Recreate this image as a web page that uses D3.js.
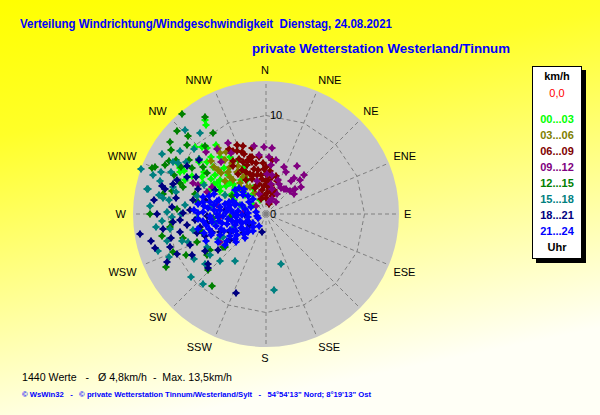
<!DOCTYPE html>
<html>
<head>
<meta charset="utf-8">
<script src="https://cdn.jsdelivr.net/npm/d3@7"></script>
<style>
body { margin: 0; }
text { font-family: "Liberation Sans", Arial, sans-serif; }
</style>
</head>
<body>
<script>
// readings per 3 hour block: [wind direction in degrees, speed in km/h]
var h00_03 = [[327,11.4],[326,10.9],[313,9.9],[316,9.4],[298,9.9],[296,9.7],[316,8.1],[321,7.4],[312,7.2],[323,6.0],[326,5.0],[311,8.0],[328,6.8],[331,4.0],[333,3.0],[337,1.5],[296,7.1],[302,5.9],[300,10.4],[293,6.2],[287,2.4],[295,4.6],[294,3.5],[300,5.4],[311,4.8],[316,5.5],[307,6.5],[312,2.9],[305,1.6],[293,8.9],[333,6.2],
    [318,9.0],[324,8.6],[308,8.6],[304,7.6],[318,6.3],[323,4.3],[328,2.4],[310,3.8],[301,4.0],[297,8.4],[315,3.3],[335,5.3],
    [306,5.8],[310,4.1],[303,6.6],[300,7.5],[298,9.4],[308,5.2],[312,4.5],[305,4.9],[300,6.1],[297,5.2]];
var h03_06 = [[312,7.1],[316,3.7],[312,6.2],[316,5.2],[326,6.2],[325,5.2],[328,4.4],[329,3.2],[332,2.4],[323,6.9],[323,7.8],[316,4.8],[322,7.0],[322,6.0],[313,6.6],[325,3.4],[320,4.1],[318,5.8],[327,7.5],[314,7.8],[330,5.6],[309,5.4],[334,4.5],[324,8.3]];
var h06_09 = [[335,7.0],[340,6.5],[344,6.0],[345,5.5],[353,5.8],[339,5.3],[345,4.7],[347,4.1],[354,3.6],[0,3.3],[343,3.1],[351,2.5],[3,2.1],[10,3.0],[338,3.8],[338,4.4],[332,5.1],[0,1.6],[15,1.1],[342,1.6],[18,1.9],[2,2.8],[18,2.6],[339,6.7],[346,6.0],[0,4.8],[341,4.2],[335,4.7],[347,3.1],[0,4.1],[9,3.8],[18,3.5],[332,7.2],[328,6.3],[336,5.8],[350,4.5],[357,5.2],[5,4.4],[12,2.3],[348,6.8],[330,4.0],[325,5.0],[6,5.5],
    [330,7.6],[334,6.2],[337,7.6],[342,5.8],[349,5.3],[352,4.0],[355,2.9],[358,4.6],[4,3.5],[8,2.6],[14,4.0],[22,2.3],[347,2.0],[337,2.9],[326,5.9],[341,7.3]];
var h09_12 = [[358,6.8],[10,5.6],[21,5.1],[25,4.7],[38,4.6],[38,4.2],[50,3.9],[39,3.3],[47,3.4],[38,1.6],[9,3.1],[6,5.0],[20,3.7],[1,4.1],[9,4.0],[353,6.0],[341,2.1],[23,3.3],[44,5.5],[36,3.1],[30,3.0],[22,1.6],[13,1.3],[309,1.3],[13,2.6],[332,8.2],[330,7.2],[323,8.2],[319,7.0],[290,6.4],[293,8.1],[239,5.5],[297,6.1],[273,2.3],[266,4.7],[293,7.5],[52,4.5],[45,4.9],[33,5.8],
    [3,5.8],[55,3.5],[29,2.3],[350,7.0],[5,6.7],[345,3.5],[316,8.8],[280,5.0],[255,3.2]];
var h12_15 = [[320,13.3],[315,11.2],[307,12.2],[328,11.6],[327,9.8],[305,9.6],[301,10.7],[293,12.2],[293,10.1],[302,8.8],[288,8.9],[307,8.0],[299,11.2],[311,10.6],[299,9.9],[309,8.8],[262,9.8],[265,9.6],[254,8.8],[248,7.6],[254,6.8],[237,6.8],[231,5.3],[266,5.4],[265,3.7],[280,7.0],[292,12.5],[217,9.1],[248,10.2],[235,7.3],[233,5.5],[253,6.7],[284,9.8],[298,3.9],
    [296,11.4],[304,11.6],[313,12.4],[318,9.3],[290,9.3],[281,10.6],[273,9.0],[258,10.8],[243,9.1],[226,8.2],[270,11.8],[305,7.3],[286,7.5],[242,11.5]];
var h15_18 = [[290,13.5],[300,12.2],[289,12.1],[279,10.6],[282,12.4],[294,10.6],[321,10.6],[306,10.8],[309,8.8],[299,10.8],[300,10.3],[282,12.2],[278,9.9],[268,9.5],[266,10.6],[284,9.4],[276,8.3],[277,5.7],[260,5.3],[241,6.9],[234,7.0],[242,5.5],[242,5.0],[247,3.6],[267,7.0],[251,11.6],[224,6.7],[213,5.7],[222,9.5],[163,5.3],[174,7.8],[252,9.0],[250,8.4],[261,9.9],[271,10.1],[286,9.8],[295,4.6],[295,6.9],[289,2.8],
    [287,11.3],[274,11.8],[263,11.2],[255,10.4],[246,10.8],[238,8.6],[231,8.0],[270,8.6],[280,11.0],[292,11.5],[303,9.7],[312,9.8],[316,11.9],[258,7.6],[285,7.2],[230,9.9]];
var h18_21 = [[261,12.9],[253,11.8],[251,10.3],[258,8.9],[262,8.1],[255,7.3],[261,6.1],[252,5.8],[234,4.5],[265,9.5],[271,8.4],[291,9.7],[295,8.9],[298,8.0],[309,8.7],[285,10.9],[284,10.6],[227,8.1],[229,7.8],[201,8.6],[193,1.9],[249,5.0],[230,3.0],[243,4.1],[259,6.8],[265,7.2],[233,6.1],[248,8.3],[276,4.2],[283,6.4],[295,5.7],[267,2.1],[236,2.0],[270,11.1],
    [256,9.9],[266,8.8],[274,9.6],[280,9.3],[288,9.9],[277,11.5],[262,10.6],[246,9.9],[241,8.6],[239,7.2],[250,6.6],[268,6.0],[273,7.7],[281,7.6],[290,7.3],[301,9.4],[244,11.2],[257,12.0]];
var h21_24 = [[212,1.4],[218,2.2],[225,1.8],[228,3.0],[232,2.5],[234,3.6],[237,1.6],[239,4.3],[241,2.9],[243,3.8],[245,5.1],[247,2.2],[248,4.6],[250,3.3],[251,5.8],[253,6.6],[254,2.7],[255,4.1],[257,5.2],[258,7.1],[259,3.5],[260,6.2],[261,1.9],[262,4.8],[264,3.1],[265,5.6],[266,6.9],[267,2.4],[268,4.4],[270,5.0],[271,3.4],[272,6.4],[273,7.3],[274,1.8],[275,4.7],[276,5.9],[277,2.9],[278,7.0],[279,3.9],[280,5.4],[281,6.5],[282,2.2],[283,4.3],[285,5.1],[286,3.3],[287,6.1],[288,4.0],[290,2.6],[291,5.6],[292,3.6],[295,1.7],[304,3.5],[307,2.1],[308,4.0],[310,3.0],[313,3.8],[316,2.6],[318,3.4],[320,2.0],[256,0.9],[283,1.0],[245,0.9],[235,4.8],[249,6.0],[227,4.2],[221,3.2],
    [226,2.6],[231,4.0],[236,2.8],[240,3.5],[244,1.9],[246,4.0],[249,2.6],[252,4.8],[255,6.0],[257,3.0],[259,4.6],[261,5.5],[263,3.9],[264,6.4],[266,4.9],[268,5.7],[269,3.0],[271,6.9],[273,4.1],[274,5.3],[276,3.6],[277,6.3],[279,4.7],[282,5.8],[284,3.8],[285,6.6],[287,5.0],[289,3.2],[314,3.2],[246,6.7],[240,5.6],[233,5.2]];

var groupData = [h00_03, h03_06, h06_09, h09_12, h12_15, h15_18, h18_21, h21_24];
var groupLabels = ["00...03", "03...06", "06...09", "09...12", "12...15", "15...18", "18...21", "21...24"];
var groupColors = ["#00ff00", "#808000", "#800000", "#800080", "#008000", "#008080", "#000080", "#0000ff"];

var dirLabels = ["N","NNE","NE","ENE","E","ESE","SE","SSE","S","SSW","SW","WSW","W","WNW","NW","NNW"];
var ringValues = [10];
var maxSpeed = 13.5;

var titleText = "Verteilung Windrichtung/Windgeschwindigkeit  Dienstag, 24.08.2021";
var stationText = "private Wetterstation Westerland/Tinnum";
var statsText = "1440 Werte   -   \u00d8 4,8km/h  -  Max. 13,5km/h";
var footerText = "\u00a9 WsWin32   -   \u00a9 private Wetterstation Tinnum/Westerland/Sylt   -   54\u00b054'13\" Nord; 8\u00b019'13\" Ost";

var width = 600, height = 415;
var cx = 266, cy = 214, R = 133;

var svg = d3.select("body").append("svg")
        .attr("width", width)
        .attr("height", height);

// yellow background fading out towards the bottom
var grad = svg.append("defs").append("linearGradient")
        .attr("id", "bg")
        .attr("x1", 0).attr("y1", 0)
        .attr("x2", 0.3).attr("y2", 1);
grad.append("stop").attr("offset", 0).attr("stop-color", "#ffff00");
grad.append("stop").attr("offset", 0.3).attr("stop-color", "#ffff28");
grad.append("stop").attr("offset", 1).attr("stop-color", "#fffff6");

svg.append("rect")
        .attr("width", width)
        .attr("height", height)
        .style("fill", "url(#bg)");

var r = d3.scaleLinear().domain([0, maxSpeed]).range([0, R]);
var ang = d3.scaleLinear().domain([0, 360]).range([0, 2 * Math.PI]);

function px(dir, spd) { return cx + r(spd) * Math.sin(ang(dir)); }
function py(dir, spd) { return cy - r(spd) * Math.cos(ang(dir)); }

// grey disc
svg.append("circle")
        .attr("cx", cx)
        .attr("cy", cy)
        .attr("r", r(maxSpeed))
        .style("fill", "#c8c8c8");

var grid = svg.append("g")
        .style("fill", "none")
        .style("stroke", "#808080")
        .style("stroke-width", 1)
        .style("stroke-dasharray", "4,3");

// spokes for the 16 directions
grid.selectAll("line")
        .data(dirLabels)
        .enter()
        .append("line")
        .attr("x1", cx)
        .attr("y1", cy)
        .attr("x2", function(d, i) { return px(i * 22.5, maxSpeed); })
        .attr("y2", function(d, i) { return py(i * 22.5, maxSpeed); });

// speed ring drawn as polygon through the spokes
grid.selectAll("polygon")
        .data(ringValues)
        .enter()
        .append("polygon")
        .attr("points", function(v) {
            return dirLabels.map(function(d, i) {
                return px(i * 22.5, v) + "," + py(i * 22.5, v);
            }).join(" ");
        });

// the wind readings, oldest block first
var marker = "M-1,-3.5h2v1l1.5,1.5h1v2h-1l-1.5,1.5v1h-2v-1l-1.5,-1.5h-1v-2h1l1.5,-1.5z";
groupData.forEach(function(pts, gi) {
    svg.append("g")
            .selectAll("path")
            .data(pts)
            .enter()
            .append("path")
            .attr("d", marker)
            .attr("transform", function(d) { return "translate(" + Math.round(px(d[0], d[1])) + "," + Math.round(py(d[0], d[1])) + ")"; })
            .style("fill", groupColors[gi]);
});

// ring labels
svg.selectAll("text.ring")
        .data([0].concat(ringValues))
        .enter()
        .append("text")
        .attr("class", "ring")
        .attr("x", cx + 4)
        .attr("y", function(v) { return cy - r(v); })
        .attr("dy", "0.35em")
        .style("font-size", "11px")
        .text(function(v) { return v; });

// direction labels: the text box corner nearest to the centre sits on a circle
var labelR = 139;
svg.selectAll("text.dir")
        .data(dirLabels)
        .enter()
        .append("text")
        .attr("class", "dir")
        .attr("dy", "0.35em")
        .attr("text-anchor", "middle")
        .style("font-size", "11px")
        .text(function(d) { return d; })
        .each(function(d, i) {
            var a = ang(i * 22.5);
            var s = Math.sin(a), c = Math.cos(a);
            var w = this.getComputedTextLength();
            var sx = Math.abs(s) < 0.01 ? 0 : (s > 0 ? 1 : -1);
            var sy = Math.abs(c) < 0.01 ? 0 : (c > 0 ? 1 : -1);
            d3.select(this)
                    .attr("x", cx - 1 + labelR * s + sx * w / 2)
                    .attr("y", cy - labelR * c - sy * 5);
        });

// titles
svg.append("text")
        .attr("x", 20).attr("y", 28)
        .attr("textLength", 372).attr("lengthAdjust", "spacingAndGlyphs")
        .style("font-size", "13px").style("font-weight", "bold")
        .style("fill", "#0000ff").style("white-space", "pre")
        .text(titleText);

svg.append("text")
        .attr("x", 252).attr("y", 53)
        .attr("textLength", 258).attr("lengthAdjust", "spacingAndGlyphs")
        .style("font-size", "13px").style("font-weight", "bold")
        .style("fill", "#0000ff")
        .text(stationText);

// legend box with shadow
svg.append("rect")
        .attr("x", 536).attr("y", 70)
        .attr("width", 50).attr("height", 193)
        .style("fill", "#000");
svg.append("rect")
        .attr("x", 532.5).attr("y", 66.5)
        .attr("width", 49).attr("height", 192)
        .style("fill", "#fff").style("stroke", "#000");

svg.append("text")
        .attr("x", 557).attr("y", 80)
        .attr("text-anchor", "middle")
        .style("font-size", "11px").style("font-weight", "bold")
        .text("km/h");
svg.append("text")
        .attr("x", 557).attr("y", 97)
        .attr("text-anchor", "middle")
        .style("font-size", "11px")
        .style("fill", "#ff0000")
        .text("0,0");

svg.selectAll("text.leg")
        .data(groupLabels)
        .enter()
        .append("text")
        .attr("class", "leg")
        .attr("x", 557)
        .attr("y", function(d, i) { return 123 + i * 15.95; })
        .attr("text-anchor", "middle")
        .style("font-size", "11px").style("font-weight", "bold")
        .style("fill", function(d, i) { return groupColors[i]; })
        .text(function(d) { return d; });

svg.append("text")
        .attr("x", 557).attr("y", 251)
        .attr("text-anchor", "middle")
        .style("font-size", "11px").style("font-weight", "bold")
        .text("Uhr");

// bottom lines
svg.append("text")
        .attr("x", 22).attr("y", 381)
        .attr("textLength", 210).attr("lengthAdjust", "spacingAndGlyphs")
        .style("font-size", "11px").style("white-space", "pre")
        .text(statsText);

svg.append("text")
        .attr("x", 22).attr("y", 397)
        .attr("textLength", 349).attr("lengthAdjust", "spacingAndGlyphs")
        .style("font-size", "8px").style("font-weight", "bold")
        .style("fill", "#0000ff").style("white-space", "pre")
        .text(footerText);
</script>
</body>
</html>
